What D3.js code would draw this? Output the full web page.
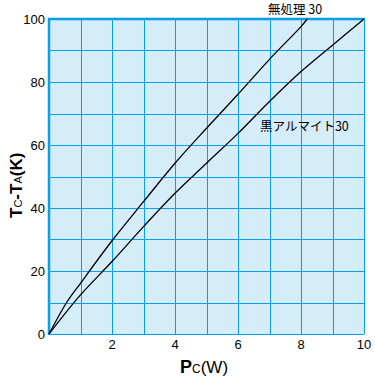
<!DOCTYPE html>
<html lang="ja">
<head>
  <meta charset="UTF-8" />
  <title>Tc-TA vs Pc</title>
  <script src="https://d3js.org/d3.v7.min.js"></script>
  <style>
    body { margin: 0; background: #fff; }
    svg { display: block; }
    .tick-label { font-family: "Liberation Sans", Arial, sans-serif; font-size: 13px; fill: #000; }
    .series-label { font-family: "Noto Sans CJK JP", sans-serif; font-size: 12.5px; fill: #000; }
    .axis-title { font-family: "Liberation Sans", Arial, sans-serif; fill: #000; }
  </style>
</head>
<body>
  <svg width="375" height="381"></svg>

  <script>
    // data
    const xTicks = [2, 4, 6, 8, 10];
    const yTicks = [0, 20, 40, 60, 80, 100];

    const plainPower = [0, 0.56, 1, 2, 3, 4, 5, 6, 7, 8, 8.2];
    const plainTemp  = [0, 10, 16.1, 29.6, 42, 54.2, 65.3, 76.1, 87.2, 97.6, 100];

    const blackPower = [0, 1, 2, 3, 4, 5, 6, 7, 8, 9, 10];
    const blackTemp  = [0, 12.4, 23, 34.1, 44.7, 54.2, 63.7, 73.8, 83.3, 91.7, 100];

    const svg = d3.select("svg");
    const margin = { left: 49, top: 19, right: 10, bottom: 47 };
    const W = 375, H = 381;

    const x = d3.scaleLinear().domain([0, 10]).range([margin.left, W - margin.right - 1]);
    const y = d3.scaleLinear().domain([0, 100]).range([H - margin.bottom, margin.top]);

    const gridColor = "#05a0e8";

    // background
    svg.append("rect")
      .attr("x", x(0)).attr("y", y(100))
      .attr("width", x(10) - x(0)).attr("height", y(0) - y(100))
      .attr("fill", "#d5ecf9");

    // grid
    const grid = svg.append("g")
      .attr("stroke", gridColor)
      .attr("stroke-width", 1)
      .attr("shape-rendering", "crispEdges");

    grid.selectAll("line.v")
      .data(d3.range(1, 11))
      .join("line")
        .attr("x1", d => Math.round(x(d)) + 0.5).attr("x2", d => Math.round(x(d)) + 0.5)
        .attr("y1", y(100)).attr("y2", y(0));

    grid.selectAll("line.h")
      .data(d3.range(0, 100, 10))
      .join("line")
        .attr("y1", d => Math.round(y(d)) + 0.5).attr("y2", d => Math.round(y(d)) + 0.5)
        .attr("x1", x(0)).attr("x2", x(10));

    // thick left and top borders
    svg.append("line")
      .attr("x1", x(0)).attr("x2", x(0))
      .attr("y1", y(100) - 1).attr("y2", y(0) + 1)
      .attr("stroke", gridColor).attr("stroke-width", 2.5);
    svg.append("line")
      .attr("x1", x(0) - 1).attr("x2", x(10) + 1)
      .attr("y1", y(100)).attr("y2", y(100))
      .attr("stroke", gridColor).attr("stroke-width", 2.5);

    // curves
    const line = d3.line()
      .x(d => x(d[0]))
      .y(d => y(d[1]))
      .curve(d3.curveCatmullRom.alpha(0.5));

    [[plainPower, plainTemp], [blackPower, blackTemp]].forEach(([px, py]) => {
      svg.append("path")
        .datum(px.map((v, i) => [v, py[i]]))
        .attr("fill", "none")
        .attr("stroke", "#000")
        .attr("stroke-width", 1.3)
        .attr("d", line);
    });

    // tick labels
    svg.selectAll("text.ytick")
      .data(yTicks)
      .join("text")
        .attr("class", "tick-label")
        .attr("x", x(0) - 4)
        .attr("y", d => y(d))
        .attr("dy", "0.36em")
        .attr("text-anchor", "end")
        .text(d => d);

    svg.selectAll("text.xtick")
      .data(xTicks)
      .join("text")
        .attr("class", "tick-label")
        .attr("x", d => x(d))
        .attr("y", y(0) + 15)
        .attr("text-anchor", "middle")
        .text(d => d);

    // series labels
    svg.append("text")
      .attr("class", "series-label")
      .attr("x", x(6.95)).attr("y", 14)
      .text("無処理 30");

    svg.append("text")
      .attr("class", "series-label")
      .attr("x", x(6.7)).attr("y", y(64.5))
      .text("黒アルマイト30");

    // axis titles
    const xt = svg.append("text")
      .attr("class", "axis-title")
      .attr("x", 180).attr("y", 373);
    xt.append("tspan").attr("font-size", 18).attr("font-weight", "bold").text("P");
    xt.append("tspan").attr("font-size", 12).text("C");
    xt.append("tspan").attr("font-size", 17).text("(W)");

    const yt = svg.append("text")
      .attr("class", "axis-title")
      .attr("transform", "translate(22,218) rotate(-90)");
    yt.append("tspan").attr("font-size", 17).attr("font-weight", "bold").text("T");
    yt.append("tspan").attr("font-size", 11).text("C");
    yt.append("tspan").attr("font-size", 17).attr("font-weight", "bold").text("-T");
    yt.append("tspan").attr("font-size", 11).text("A");
    yt.append("tspan").attr("font-size", 17).attr("font-weight", "bold").text("(K)");
  </script>
</body>
</html>
